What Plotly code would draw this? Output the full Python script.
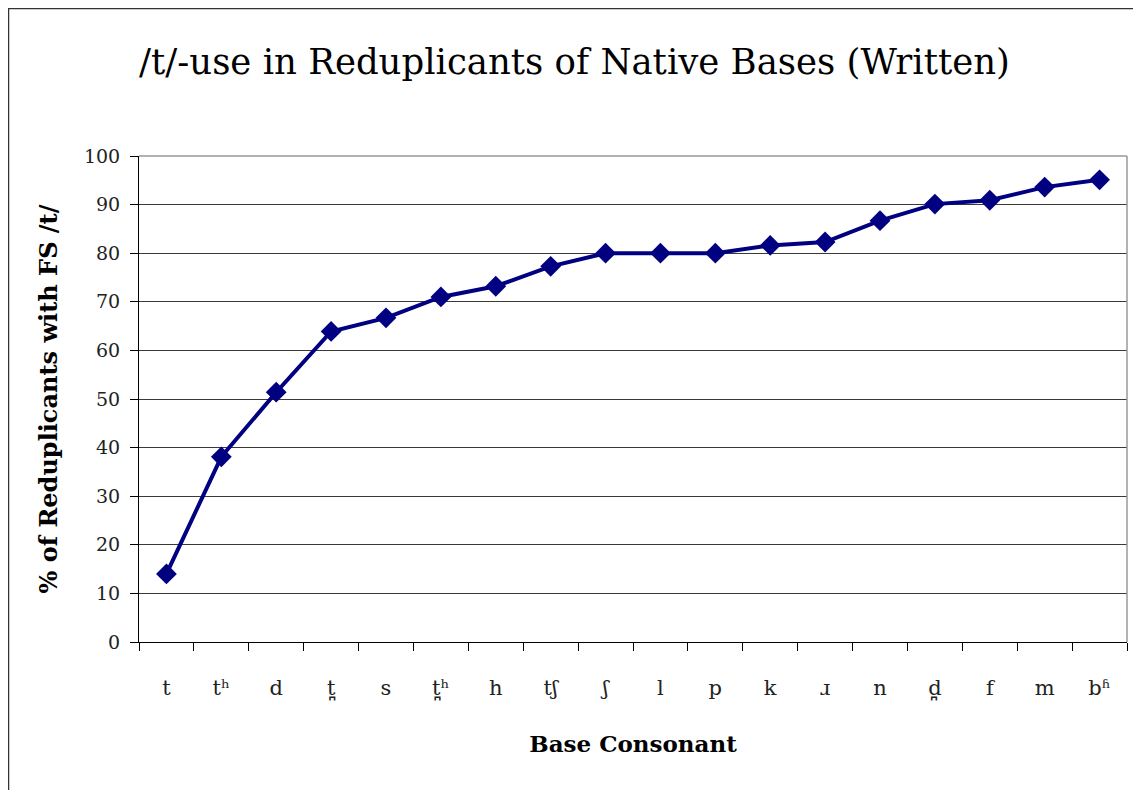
import plotly.graph_objects as go

categories = ["t", "tʰ", "d", "t̪", "s", "t̪ʰ", "h", "tʃ", "ʃ", "l", "p", "k", "ɹ", "n", "d̪", "f", "m", "bʱ"]
values = [14.0, 38.1, 51.4, 63.9, 66.7, 71.0, 73.2, 77.3, 80.0, 80.0, 80.0, 81.6, 82.3, 86.7, 90.1, 90.9, 93.6, 95.1]
y_ticks = [0, 10, 20, 30, 40, 50, 60, 70, 80, 90, 100]

# page body has an 8px default margin, so figure coords = screen coords - 8
OFF = 8
W, H = 1141 - OFF, 790 - OFF
ml, mr, mt, mb = 139 - OFF, 14, 156 - OFF, 148
pw, ph = W - ml - mr, H - mt - mb

def px_to_paper_x(px):
    return (px - OFF - ml) / pw

def px_to_paper_y(py):
    return (H - mb - (py - OFF)) / ph

serif = "DejaVu Serif, Liberation Serif, serif"

fig = go.Figure()
fig.add_trace(go.Scatter(
    x=categories, y=values, mode="lines+markers",
    line=dict(color="#000080", width=4),
    marker=dict(symbol="diamond", size=16, color="#000080"),
    cliponaxis=False, showlegend=False,
))

fig.update_layout(
    width=W, height=H,
    margin=dict(l=ml, r=mr, t=mt, b=mb, autoexpand=False),
    paper_bgcolor="white", plot_bgcolor="white",
    title=dict(text="/t/-use in Reduplicants of Native Bases (Written)",
               font=dict(family=serif, size=35.5, color="black"),
               x=0.5, xanchor="center", xref="container", y=1 - (62 - OFF) / H, yanchor="middle"),
    xaxis=dict(
        type="category", tickson="boundaries", ticks="outside", ticklen=8,
        tickcolor="black", showline=True, linecolor="black", linewidth=1,
        showgrid=False, tickfont=dict(family=serif, size=21, color="#222"),
        ticklabelstandoff=27, automargin=False,
        title=dict(text="<b>Base Consonant</b>", font=dict(family=serif, size=23, color="black"), standoff=35),
        range=[-0.5, len(categories) - 0.5],
    ),
    yaxis=dict(
        range=[0, 100], tickvals=y_ticks, ticks="outside", ticklen=8, tickcolor="black",
        showline=True, linecolor="black", linewidth=1,
        showgrid=True, gridcolor="#3a3a3a", gridwidth=1,
        tickfont=dict(family=serif, size=19, color="#222"),
        ticklabelstandoff=6, automargin=False,
        title=dict(text="<b>% of Reduplicants with FS /t/</b>", font=dict(family=serif, size=24, color="black"), standoff=19),
        zeroline=False,
    ),
    shapes=[
        dict(type="line", xref="paper", yref="paper", x0=1, x1=1, y0=0, y1=1,
             line=dict(color="#999999", width=1.5)),
        dict(type="line", xref="paper", yref="paper", x0=0, x1=1, y0=1, y1=1,
             line=dict(color="#999999", width=1.5)),
        dict(type="rect", xref="paper", yref="paper",
             x0=px_to_paper_x(8.5), x1=px_to_paper_x(1139.5),
             y0=px_to_paper_y(800), y1=px_to_paper_y(8.5),
             line=dict(color="#333333", width=1.5), layer="below"),
    ],
)

fig.write_html("out.html")
